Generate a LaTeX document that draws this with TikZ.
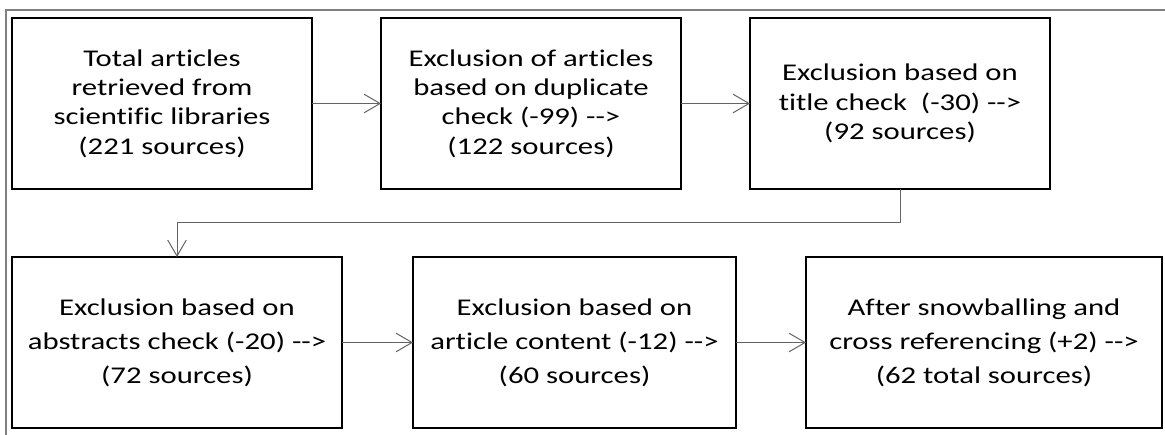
\documentclass[tikz,border=0pt]{standalone}
\usepackage{fontspec}
\setmainfont{Carlito}[Ligatures={NoCommon}, FakeStretch=1.28]
\usetikzlibrary{arrows.meta}
\definecolor{framegray}{RGB}{128,128,128}
\definecolor{linkgray}{RGB}{100,100,100}
\newcommand{\arr}{-{}-{}>}
\begin{document}
\begin{tikzpicture}[x=0.75pt,y=-0.75pt,
  stage/.style={draw=black, line width=1.5pt, rectangle, align=center,
    inner sep=0pt, outer sep=0pt, minimum height=171*0.75pt,
    font=\fontsize{18pt}{22pt}\selectfont},
  lower/.style={font=\fontsize{18pt}{25.5pt}\selectfont},
  link/.style={draw=linkgray, line width=0.75pt,
    -{Straight Barb[length=12pt,width=14pt,line width=0.75pt]}}]
  \useasboundingbox (0,0) rectangle (1165,435);
  % outer frame (top and left edges only)
  \draw[framegray, line width=1.4pt] (6,435) -- (6,10) -- (1165,10);
  % first row
  \node[stage, minimum width=300*0.75pt] (total) at (162,103.5)
    {Total articles\\retrieved from\\scientific libraries\\(221 sources)};
  \node[stage, minimum width=300*0.75pt] (dup) at (531,103.5)
    {Exclusion of articles\\based on duplicate\\check (-99) \arr\\(122 sources)};
  \node[stage, minimum width=300*0.75pt] (title) at (900,103.5)
    {Exclusion based on\\title check\ \ (-30) \arr\\(92 sources)};
  % second row
  \node[stage, lower, minimum width=330*0.75pt] (abs) at (177,342.5)
    {Exclusion based on\\abstracts check (-20) \arr\\(72 sources)};
  \node[stage, lower, minimum width=323*0.75pt] (content) at (574.5,342.5)
    {Exclusion based on\\article content (-12) \arr\\(60 sources)};
  \node[stage, lower, minimum width=356*0.75pt] (snow) at (984,342.5)
    {After snowballing and\\cross referencing (+2) \arr\\(62 total sources)};
  % connectors
  \draw[link] (total) -- (dup);
  \draw[link] (dup) -- (title);
  \coordinate (bendR) at (900,222);
  \coordinate (bendL) at (177,222);
  \draw[link] (title.south) -- (bendR) -- (bendL) -- (abs.north);
  \draw[link] (abs) -- (content);
  \draw[link] (content) -- (snow);
\end{tikzpicture}
\end{document}
